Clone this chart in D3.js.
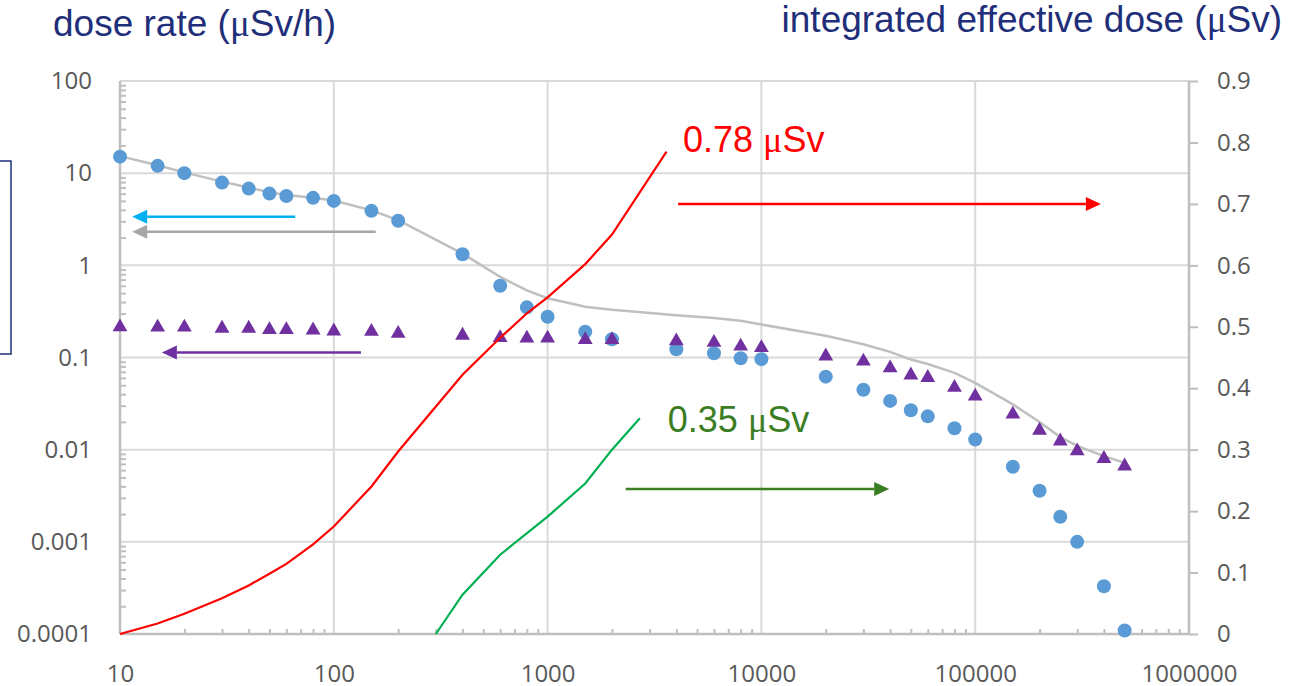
<!DOCTYPE html>
<html>
<head>
<meta charset="utf-8">
<script src="https://cdn.jsdelivr.net/npm/d3@7"></script>
<style>
  body { margin: 0; background: #fff; }
  svg { display: block; }
</style>
</head>
<body>
<svg id="canvas" width="1289" height="686"></svg>
<script>
// ---- data ----
var timePoints = [10, 15, 20, 30, 40, 50, 60, 80, 100, 150, 200, 400, 600, 800, 1000, 1500, 2000,
	4000, 6000, 8000, 10000, 20000, 30000, 40000, 50000, 60000, 80000, 100000,
	150000, 200000, 250000, 300000, 400000, 500000];

// blue circles, dose rate (uSv/h)
var blueRate = [15.1, 12.0, 10.0, 7.9, 6.8, 6.0, 5.65, 5.4, 5.0, 3.9, 3.05, 1.32, 0.60, 0.35, 0.277, 0.19, 0.158,
	0.123, 0.111, 0.098, 0.096, 0.062, 0.0446, 0.0338, 0.0268, 0.023, 0.0171, 0.0129,
	0.00653, 0.00358, 0.00187, 0.001, 0.00033, 0.000109];

// purple triangles, dose rate (uSv/h)
var purpleRate = [0.22, 0.218, 0.218, 0.212, 0.212, 0.205, 0.205, 0.203, 0.198, 0.196, 0.187, 0.178, 0.168, 0.166, 0.166, 0.16, 0.16,
	0.155, 0.149, 0.136, 0.131, 0.106, 0.0935, 0.079, 0.066, 0.062, 0.0484, 0.039,
	0.0248, 0.0166, 0.0127, 0.0099, 0.0082, 0.0068];

// grey line, dose rate (uSv/h)
var greyRate = [15.3, 12.2, 10.2, 8.1, 7.0, 6.2, 5.8, 5.4, 5.05, 3.95, 3.1, 1.34, 0.75, 0.535, 0.44, 0.355, 0.33,
	0.288, 0.268, 0.251, 0.228, 0.172, 0.139, 0.115, 0.095, 0.085, 0.068, 0.053,
	0.031, 0.020, 0.0137, 0.011, 0.0085, 0.0072];

// red line, integrated effective dose (uSv)
var redTime = [10, 15, 20, 30, 40, 50, 60, 80, 100, 150, 200, 400, 600, 800, 1000, 1500, 2000, 3600];
var redDose = [0, 0.017, 0.033, 0.058, 0.079, 0.098, 0.114, 0.146, 0.175, 0.24, 0.297, 0.422, 0.482, 0.522, 0.548, 0.602, 0.65, 0.785];

// green line, integrated effective dose (uSv)
var greenTime = [300, 400, 600, 1000, 1500, 2000, 2700];
var greenDose = [0, 0.064, 0.129, 0.191, 0.245, 0.30, 0.351];

// tick labels
var xTicks = [10, 100, 1000, 10000, 100000, 1000000];
var xTickLabels = ['10', '100', '1000', '10000', '100000', '1000000'];
var yLeftTicks = [0.0001, 0.001, 0.01, 0.1, 1, 10, 100];
var yLeftTickLabels = ['0.0001', '0.001', '0.01', '0.1', '1', '10', '100'];
var yRightTicks = [0, 0.1, 0.2, 0.3, 0.4, 0.5, 0.6, 0.7, 0.8, 0.9];
var yRightTickLabels = ['0', '0.1', '0.2', '0.3', '0.4', '0.5', '0.6', '0.7', '0.8', '0.9'];

// arrows (x from -> x to, at level y, on the left or right axis)
var arrowAxis = ['left', 'left', 'left', 'right', 'right'];
var arrowFrom = [66, 157, 134, 4080, 2320];
var arrowTo = [11.4, 11.4, 15.7, 387000, 39600];
var arrowLevel = [3.37, 2.32, 0.113, 0.70, 0.236];

// dose labels
var doseLabels = ['0.78', '0.35'];
var doseLabelX = [4300, 3650];
var doseLabelY = [0.784, 0.329];

// ---- layout ----
var plotLeft = 120, plotRight = 1189, plotTop = 81, plotBottom = 634;
var tickFont = '"Open Sans", "Noto Sans", sans-serif';
var textFont = '"Liberation Sans", Arial, sans-serif';
var navy = '#1f2f7a';
var arrowColors = ['#00b0f0', '#a6a6a6', '#7030a0', '#ff0000', '#3b7d23'];
var labelColors = ['#ff0000', '#3b7d23'];

var x = d3.scaleLog().domain([10, 1000000]).range([plotLeft, plotRight]);
var yL = d3.scaleLog().domain([0.0001, 100]).range([plotBottom, plotTop]);
var yR = d3.scaleLinear().domain([0, 0.9]).range([plotBottom, plotTop]);

var svg = d3.select('#canvas');

// minor tick positions 2..9 of every decade
var minorOf = function (lo, hi) {
	var out = [];
	for (var d = lo; d < hi * 0.99; d *= 10) {
		for (var m = 2; m <= 9; m++) out.push(d * m);
	}
	return out;
};

// grid
var grid = svg.append('g').attr('class', 'grid').attr('stroke', '#d9d9d9').attr('stroke-width', 2);
grid.selectAll('line.h')
	.data(yLeftTicks.slice(1))
	.enter().append('line')
	.attr('x1', plotLeft).attr('x2', plotRight)
	.attr('y1', d => yL(d)).attr('y2', d => yL(d));
grid.selectAll('line.v')
	.data(xTicks.slice(1, -1))
	.enter().append('line')
	.attr('x1', d => x(d)).attr('x2', d => x(d))
	.attr('y1', plotTop).attr('y2', plotBottom);

// left axis: labels + inside minor ticks
svg.append('g')
	.attr('transform', 'translate(' + plotLeft + ',0)')
	.call(d3.axisLeft(yL).tickValues(yLeftTicks).tickSize(0).tickPadding(28)
		.tickFormat((d, i) => yLeftTickLabels[i]));
svg.append('g')
	.attr('transform', 'translate(' + plotLeft + ',0)')
	.call(d3.axisRight(yL).tickValues(minorOf(0.0001, 100)).tickSize(6).tickFormat(''));

// bottom axis: labels + inside minor ticks
svg.append('g')
	.attr('transform', 'translate(0,' + plotBottom + ')')
	.call(d3.axisBottom(x).tickValues(xTicks).tickSize(0).tickPadding(31)
		.tickFormat((d, i) => xTickLabels[i]));
svg.append('g')
	.attr('transform', 'translate(0,' + plotBottom + ')')
	.call(d3.axisTop(x).tickValues(minorOf(10, 1000000)).tickSize(5).tickFormat(''));

// right axis
svg.append('g')
	.attr('transform', 'translate(' + plotRight + ',0)')
	.call(d3.axisRight(yR).tickValues(yRightTicks).tickSize(9).tickPadding(19)
		.tickFormat((d, i) => yRightTickLabels[i]));

svg.selectAll('.domain').remove();
svg.selectAll('.tick line').attr('stroke', '#bfbfbf').attr('stroke-width', 2);
svg.selectAll('.tick text')
	.style('font-family', tickFont)
	.style('font-size', '24px')
	.attr('fill', '#595959');

// axis lines
var axisLines = svg.append('g').attr('stroke', '#bfbfbf').attr('stroke-width', 2.5);
axisLines.append('line').attr('x1', plotLeft).attr('x2', plotLeft).attr('y1', plotTop).attr('y2', plotBottom);
axisLines.append('line').attr('x1', plotRight).attr('x2', plotRight).attr('y1', plotTop).attr('y2', plotBottom);
axisLines.append('line').attr('x1', plotLeft).attr('x2', plotRight).attr('y1', plotBottom).attr('y2', plotBottom);

// grey line
var lineL = d3.line().x(d => x(d[0])).y(d => yL(d[1]));
var lineR = d3.line().x(d => x(d[0])).y(d => yR(d[1]));

svg.append('path')
	.attr('d', lineL(d3.zip(timePoints, greyRate)))
	.attr('fill', 'none').attr('stroke', '#bfbfbf').attr('stroke-width', 2.5);

// blue circles
svg.append('g').selectAll('circle')
	.data(d3.zip(timePoints, blueRate))
	.enter().append('circle')
	.attr('cx', d => x(d[0])).attr('cy', d => yL(d[1]))
	.attr('r', 7).attr('fill', '#5b9bd5');

// purple triangles
var tri = d3.symbol().type(d3.symbolTriangle).size(95);
svg.append('g').selectAll('path')
	.data(d3.zip(timePoints, purpleRate))
	.enter().append('path')
	.attr('d', tri)
	.attr('transform', d => 'translate(' + x(d[0]) + ',' + (yL(d[1]) + 1) + ')')
	.attr('fill', '#7030a0');

// integrated dose lines
svg.append('path')
	.attr('d', lineR(d3.zip(redTime, redDose)))
	.attr('fill', 'none').attr('stroke', '#ff0000').attr('stroke-width', 2.2);
svg.append('path')
	.attr('d', lineR(d3.zip(greenTime, greenDose)))
	.attr('fill', 'none').attr('stroke', '#00b050').attr('stroke-width', 2.2);

// arrows
arrowAxis.forEach(function (axis, i) {
	var y = axis === 'left' ? yL(arrowLevel[i]) : yR(arrowLevel[i]);
	var x1 = x(arrowFrom[i]), x2 = x(arrowTo[i]);
	var dir = x2 > x1 ? 1 : -1;
	var head = 15, half = 7;
	svg.append('line')
		.attr('x1', x1).attr('x2', x2 - dir * head)
		.attr('y1', y).attr('y2', y)
		.attr('stroke', arrowColors[i]).attr('stroke-width', 2.5);
	svg.append('path')
		.attr('d', 'M' + x2 + ',' + y + 'L' + (x2 - dir * head) + ',' + (y - half) + 'L' + (x2 - dir * head) + ',' + (y + half) + 'Z')
		.attr('fill', arrowColors[i]);
});

// dose labels
doseLabels.forEach(function (t, i) {
	var txt = svg.append('text')
		.attr('x', x(doseLabelX[i])).attr('y', yR(doseLabelY[i]))
		.attr('fill', labelColors[i])
		.style('font-family', textFont).style('font-size', '36px');
	txt.append('tspan').text(t + ' ');
	txt.append('tspan').style('font-family', '"Liberation Serif", serif').text('μ');
	txt.append('tspan').text('Sv');
});

// axis titles
var leftTitle = svg.append('text').attr('x', 53).attr('y', 36).attr('fill', navy)
	.style('font-family', textFont).style('font-size', '37px');
leftTitle.append('tspan').text('dose rate (');
leftTitle.append('tspan').style('font-family', '"Liberation Serif", serif').text('μ');
leftTitle.append('tspan').text('Sv/h)');

var rightTitle = svg.append('text').attr('x', 1282).attr('y', 32).attr('fill', navy)
	.attr('text-anchor', 'end')
	.style('font-family', textFont).style('font-size', '37px');
rightTitle.append('tspan').text('integrated effective dose (');
rightTitle.append('tspan').style('font-family', '"Liberation Serif", serif').text('μ');
rightTitle.append('tspan').text('Sv)');

// legend box cut off at the left edge
svg.append('rect')
	.attr('x', -20).attr('y', 161).attr('width', 31).attr('height', 193)
	.attr('fill', 'none').attr('stroke', navy).attr('stroke-width', 1.5);
</script>
</body>
</html>
